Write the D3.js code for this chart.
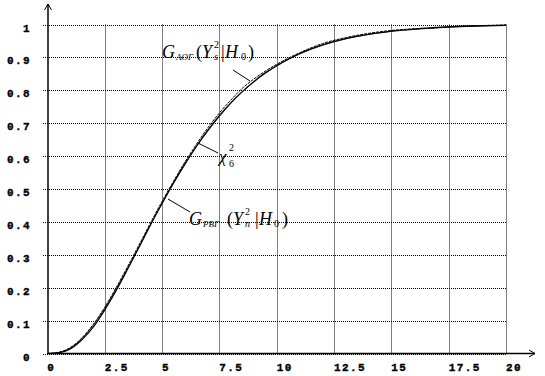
<!DOCTYPE html>
<html>
<head>
<meta charset="utf-8">
<script src="https://cdn.jsdelivr.net/npm/d3@7"></script>
<style>
  body { margin: 0; background: #fff; }
  .tick-label { font-family: "Liberation Mono", monospace; font-weight: bold; font-size: 11px; letter-spacing: 1.4px; fill: #000; stroke: #000; stroke-width: 0.35px; }
  .math { font-family: "Liberation Serif", serif; fill: #000; }
</style>
</head>
<body>
<svg id="chart" width="545" height="376"></svg>
<script>
// values
const xVals = [0, 0.5, 1, 1.5, 2, 2.5, 3, 3.5, 4, 4.5, 5, 5.5, 6, 6.5, 7, 7.5, 8, 8.5, 9, 9.5, 10,
               11, 12, 13, 14, 15, 16, 17, 18, 19, 20];
const chi2 = [0, 0.002, 0.014, 0.041, 0.080, 0.132, 0.191, 0.256, 0.323, 0.391, 0.456, 0.519, 0.577, 0.630, 0.679, 0.723, 0.762, 0.796, 0.826, 0.853, 0.875,
              0.912, 0.938, 0.957, 0.970, 0.980, 0.986, 0.991, 0.994, 0.996, 0.997];
const gAOG = [0, 0.004, 0.018, 0.047, 0.088, 0.140, 0.200, 0.264, 0.330, 0.397, 0.462, 0.523, 0.582, 0.636, 0.686, 0.731, 0.770, 0.806, 0.834, 0.858, 0.879,
              0.914, 0.942, 0.960, 0.973, 0.982, 0.987, 0.990, 0.995, 0.997, 0.999];
const gPBG = [0, 0.003, 0.016, 0.045, 0.086, 0.137, 0.196, 0.259, 0.325, 0.392, 0.455, 0.516, 0.574, 0.628, 0.676, 0.720, 0.760, 0.795, 0.825, 0.851, 0.874,
              0.910, 0.937, 0.956, 0.970, 0.979, 0.985, 0.990, 0.993, 0.996, 0.998];

const xTicks = [0, 2.5, 5, 7.5, 10, 12.5, 15, 17.5, 20];
const yTicks = [0, 0.1, 0.2, 0.3, 0.4, 0.5, 0.6, 0.7, 0.8, 0.9, 1];

const svg = d3.select("#chart");

const x = d3.scaleLinear().domain([0, 20]).range([47.3, 506]);
const y = d3.scaleLinear().domain([0, 1]).range([353.5, 24.5]);

// grid
svg.append("g")
  .selectAll("line")
  .data(yTicks)
  .join("line")
  .attr("x1", 43).attr("x2", x(20))
  .attr("y1", d => Math.round(y(d)) + 0.5).attr("y2", d => Math.round(y(d)) + 0.5)
  .attr("stroke", "#000").attr("stroke-width", 1)
  .attr("stroke-dasharray", "1,1");

svg.append("g")
  .selectAll("line")
  .data(xTicks.slice(1))
  .join("line")
  .attr("x1", d => Math.round(x(d)) + 0.5).attr("x2", d => Math.round(x(d)) + 0.5)
  .attr("y1", y(0)).attr("y2", y(1))
  .attr("stroke", "#000").attr("stroke-width", 1)
  .attr("stroke-dasharray", "1,1");

// axes
const x0 = 48, yBase = 353.5;
svg.append("line").attr("x1", x0).attr("x2", 535).attr("y1", yBase).attr("y2", yBase)
  .attr("stroke", "#000").attr("stroke-width", 1.5);
svg.append("line").attr("x1", x0).attr("x2", x0).attr("y1", yBase).attr("y2", 4)
  .attr("stroke", "#000").attr("stroke-width", 1.5);
svg.append("path").attr("d", `M529,${yBase - 3.5} L535,${yBase} L529,${yBase + 3.5}`)
  .attr("fill", "none").attr("stroke", "#000").attr("stroke-width", 1);
svg.append("path").attr("d", `M${x0 - 3.5},10 L${x0},4 L${x0 + 3.5},10`)
  .attr("fill", "none").attr("stroke", "#000").attr("stroke-width", 1);

// tick labels
svg.append("g")
  .selectAll("text")
  .data(xTicks)
  .join("text")
  .attr("class", "tick-label")
  .attr("x", d => x(d))
  .attr("y", 371)
  .text(d => d3.format("~g")(d));

svg.append("g")
  .selectAll("text")
  .data(yTicks)
  .join("text")
  .attr("class", "tick-label")
  .attr("text-anchor", "end")
  .attr("x", 31)
  .attr("y", d => y(d) + 7)
  .text(d => d3.format("~g")(d));

// curves
const line = d3.line()
  .x(d => x(d[0]))
  .y(d => y(d[1]))
  .curve(d3.curveMonotoneX);

svg.append("path")
  .attr("d", line(d3.zip(xVals, gPBG)))
  .attr("fill", "none").attr("stroke", "#000").attr("stroke-width", 0.8);

svg.append("path")
  .attr("d", line(d3.zip(xVals, gAOG)))
  .attr("fill", "none").attr("stroke", "#000").attr("stroke-width", 1)
  .attr("stroke-dasharray", "3,1");

svg.append("path")
  .attr("d", line(d3.zip(xVals, chi2)))
  .attr("fill", "none").attr("stroke", "#000").attr("stroke-width", 1.2);

// math labels: one text per label, pieces as tspans
function mathLabel(ox, oy, pieces) {
  const t = svg.append("text").attr("class", "math");
  pieces.forEach(p => {
    t.append("tspan")
      .attr("x", ox + p[1]).attr("y", oy + p[2])
      .attr("font-size", p[3])
      .attr("font-style", p[4] ? "italic" : "normal")
      .text(p[0]);
  });
}

mathLabel(162, 58, [
  ["G", 0, 0, 18, true], ["AOГ", 14, 2, 9, true], ["(", 34, 0, 18, false],
  ["Y", 40, 0, 18, true], ["2", 52, -10, 10, false], ["s", 52, 2, 10, true],
  ["|", 59, 0, 18, false], ["H", 63, 0, 18, true], ["0", 79, 2, 10, false], [")", 86, 0, 18, false]
]);

mathLabel(189, 225, [
  ["G", 0, 0, 18, true], ["PBГ", 14, 2, 9, true], ["(", 38, 0, 18, false],
  ["Y", 44, 0, 18, true], ["2", 56, -10, 10, false], ["n", 56, 2, 10, true],
  ["|", 66, 0, 18, false], ["H", 70, 0, 18, true], ["0", 85, 2, 10, false], [")", 93, 0, 18, false]
]);

mathLabel(219, 162, [
  ["χ", 0, 0, 17, true], ["2", 10, -11, 10, false], ["6", 10, 5, 10, false]
]);

// leader lines
const leaders = [[233, 70, 250, 81], [198, 143, 218, 153], [168, 199, 190, 212]];
svg.append("g")
  .selectAll("line")
  .data(leaders)
  .join("line")
  .attr("x1", d => d[0]).attr("y1", d => d[1])
  .attr("x2", d => d[2]).attr("y2", d => d[3])
  .attr("stroke", "#000").attr("stroke-width", 1);
</script>
</body>
</html>
